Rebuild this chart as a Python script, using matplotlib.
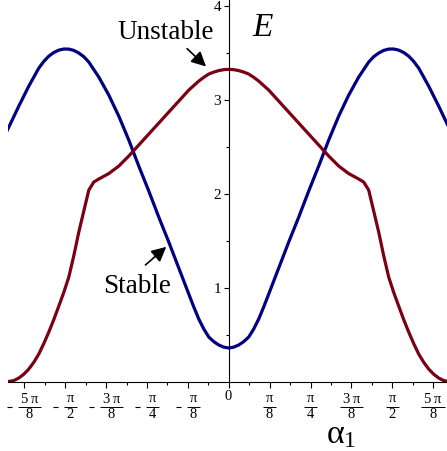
import numpy as np
import matplotlib
matplotlib.use("Agg")
import matplotlib.pyplot as plt

plt.rcParams['font.family'] = 'Liberation Serif'
plt.rcParams['mathtext.fontset'] = 'custom'
plt.rcParams['mathtext.rm'] = 'Liberation Serif'
plt.rcParams['mathtext.it'] = 'Liberation Serif'

# half curves (alpha_1 >= 0), both curves are symmetric about alpha_1 = 0
x_half = [0.0, 0.048, 0.096, 0.144, 0.192, 0.240, 0.288, 0.336, 0.384, 0.480,
          0.576, 0.672, 0.768, 0.864, 0.960, 1.056, 1.152, 1.248, 1.344, 1.392,
          1.440, 1.488, 1.536, 1.584, 1.632, 1.680, 1.728, 1.776, 1.824, 1.920,
          2.016, 2.112, 2.13]
stable_half = [0.357, 0.366, 0.389, 0.425, 0.474, 0.560, 0.666, 0.795, 0.932, 1.209,
               1.486, 1.751, 2.029, 2.295, 2.572, 2.827, 3.051, 3.243, 3.403, 3.460,
               3.499, 3.527, 3.541, 3.542, 3.530, 3.505, 3.466, 3.410, 3.339, 3.147,
               2.934, 2.710, 2.67]

xr_half = [0.0, 0.048, 0.096, 0.144, 0.192, 0.240, 0.288, 0.384, 0.480, 0.576,
           0.672, 0.768, 0.864, 0.960, 1.056, 1.152, 1.200, 1.248, 1.296, 1.344,
           1.392, 1.440, 1.488, 1.536, 1.584, 1.632, 1.680, 1.728, 1.776, 1.824,
           1.872, 1.920, 1.968, 2.016, 2.064, 2.112, 2.13]
unstable_half = [3.325, 3.322, 3.312, 3.296, 3.275, 3.240, 3.200, 3.104, 2.987, 2.870,
                 2.753, 2.636, 2.519, 2.402, 2.295, 2.215, 2.186, 2.157, 2.125, 2.039,
                 1.816, 1.592, 1.340, 1.113, 0.950, 0.804, 0.660, 0.527, 0.405, 0.293,
                 0.205, 0.133, 0.078, 0.037, 0.010, 0.0, 0.0]

# x tick labels as stacked fractions
xt = np.arange(-5, 6) * np.pi / 8
xt_num = [r'$5\;\pi$', r'$\pi$', r'$3\;\pi$', r'$\pi$', r'$\pi$', r'$0$',
          r'$\pi$', r'$\pi$', r'$3\;\pi$', r'$\pi$', r'$5\;\pi$']
xt_den = ['8', '2', '8', '4', '8', '', '8', '4', '8', '2', '8']
xt_neg = [True, True, True, True, True, False, False, False, False, False, False]
yt = [1, 2, 3, 4]

def mirror(xh, yh):
    xh = np.array(xh)
    yh = np.array(yh)
    return np.concatenate([-xh[:0:-1], xh]), np.concatenate([yh[:0:-1], yh])

xs, ys = mirror(x_half, stable_half)
xu, yu = mirror(xr_half, unstable_half)

fig = plt.figure(figsize=(4.47, 4.51), dpi=100)
ax = fig.add_axes([8/447, 69.5/451, 439/447, 381.5/451])

ax.plot(xs, ys, color='#000080', lw=2.3, solid_joinstyle='round')
ax.plot(xu, yu, color='#7a0014', lw=2.3, solid_joinstyle='round')

ax.set_xlim(-2.12, 2.096)
ax.set_ylim(0, 4.064)

for s in ['top', 'right']:
    ax.spines[s].set_visible(False)
ax.spines['left'].set_position(('data', 0))
ax.spines['left'].set_linewidth(0.8)
ax.spines['bottom'].set_linewidth(0.8)

ax.set_xticks(xt)
ax.set_xticklabels([''] * len(xt))
ax.set_xticks(np.arange(-9, 10, 2) * np.pi / 16, minor=True)
ax.set_yticks(yt)
ax.set_yticklabels([str(v) for v in yt])
ax.set_yticks([0.5, 1.5, 2.5, 3.5], minor=True)
ax.tick_params(axis='x', which='major', direction='out', length=4.5, width=0.8)
ax.tick_params(axis='x', which='minor', direction='out', length=2.5, width=0.8)
ax.tick_params(axis='y', which='major', direction='out', length=3.4, width=0.8,
               labelsize=11, pad=2)
ax.tick_params(axis='y', which='minor', direction='out', length=2, width=0.8)

# pixel helpers for the hand-built fraction labels
px_x = (ax.get_xlim()[1] - ax.get_xlim()[0]) / 439.0
px_y = (ax.get_ylim()[1] - ax.get_ylim()[0]) / 381.5
y_num, y_bar, y_den, y_zero = -17.5 * px_y, -25.7 * px_y, -32.8 * px_y, -14.5 * px_y
renderer = fig.canvas.get_renderer()
fs_tick = 10.5
for xv, num, den, neg in zip(xt, xt_num, xt_den, xt_neg):
    if den == '':
        ax.text(xv, y_zero, num, fontsize=fs_tick, ha='center', va='center', clip_on=False)
        continue
    t = ax.text(0, 0, num, fontsize=fs_tick)
    fw = t.get_window_extent(renderer).width + 4
    t.remove()
    lead = 10.5 if neg else 0.0
    left = xv - (lead + fw) / 2 * px_x
    xc = left + (lead + fw / 2) * px_x
    ax.text(xc, y_num, num, fontsize=fs_tick, ha='center', va='center', clip_on=False)
    ax.text(xc, y_den, '$' + den + '$', fontsize=fs_tick, ha='center', va='center',
            clip_on=False)
    ax.plot([xc - fw / 2 * px_x, xc + fw / 2 * px_x], [y_bar, y_bar], color='black',
            lw=0.7, clip_on=False, solid_capstyle='butt')
    if neg:
        ax.plot([left, left + 5 * px_x], [y_bar, y_bar], color='black', lw=0.8,
                clip_on=False, solid_capstyle='butt')

ax.text(-0.607, 3.644, 'Unstable', fontsize=19.5, ha='center', va='baseline')
ax.text(-0.876, 0.9425, 'Stable', fontsize=19.5, ha='center', va='baseline')
ax.text(0.3245, 3.679, 'E', fontsize=24, fontstyle='italic', ha='center', va='baseline')
ax.text(0.93, -0.655, r'$\alpha_{1}$', fontsize=24.5, ha='left', va='baseline', clip_on=False)

ax.annotate('', xy=(-0.1987, 3.335), xytext=(-0.4196, 3.566),
            arrowprops=dict(arrowstyle='-|>', color='black', lw=1.2, mutation_scale=22))
ax.annotate('', xy=(-0.580, 1.454), xytext=(-0.820, 1.222),
            arrowprops=dict(arrowstyle='-|>', color='black', lw=1.2, mutation_scale=22))

fig.savefig('out.png', dpi=100)
